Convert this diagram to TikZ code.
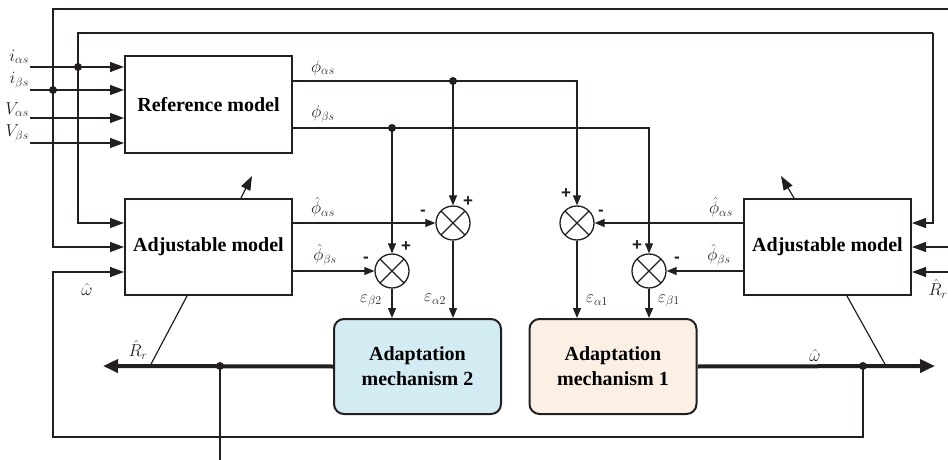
\documentclass[tikz,border=0pt]{standalone}
\usepackage{fontspec}
\setmainfont{Liberation Serif}
\newfontfamily\signfont{Liberation Sans}
\DeclareMathSizes{17.28}{17.28}{12}{10}
\usetikzlibrary{arrows.meta,calc}
\definecolor{inkc}{HTML}{231F20}
\definecolor{amblue}{HTML}{D3EBF2}
\definecolor{ampeach}{HTML}{FCEFE3}
\begin{document}
\begin{tikzpicture}[x=1pt,y=-1pt,
  wire/.style={line width=1.2pt, draw=inkc},
  thickw/.style={line width=4pt, draw=inkc},
  inarr/.style={-{Triangle[length=14pt,width=10pt]}},
  sarr/.style={-{Triangle[length=10pt,width=8pt]}},
  bigarr/.style={-{Triangle[length=15pt,width=13pt]}},
  blockbox/.style={draw=inkc, line width=2pt, minimum width=167pt, minimum height=96pt, inner sep=0pt, font=\fontsize{20}{24}\selectfont\bfseries},
  ambox/.style={draw=inkc, line width=2pt, rounded corners=10pt, minimum width=167pt, minimum height=95pt, align=center, inner sep=0pt, font=\fontsize{20}{25}\selectfont\bfseries},
  sumj/.style={circle, draw=inkc, line width=1.3pt, minimum size=34pt, inner sep=0pt, fill=white,
    path picture={\draw[line width=1.1pt, inkc] (path picture bounding box.north west) -- (path picture bounding box.south east) (path picture bounding box.north east) -- (path picture bounding box.south west);}},
  jdot/.style={circle, fill=inkc, inner sep=0pt, minimum size=8pt},
  lbl/.style={font=\fontsize{17.28}{20}\selectfont, inner sep=0pt, text=inkc},
  sgn/.style={font=\fontsize{17}{18}\selectfont\signfont\bfseries, inner sep=0pt, text=inkc}
]
\useasboundingbox (0,0) rectangle (948,460);

% blocks
\node[blockbox] (ref)  at (208.5,104.5) {Reference model};
\node[blockbox] (adjL) at (208.5,247) {Adjustable model};
\node[blockbox] (adjR) at (827.5,247) {Adjustable model};
\node[ambox, fill=amblue]  (am2) at (417.5,366.5) {Adaptation\\mechanism 2};
\node[ambox, fill=ampeach] (am1) at (613,366.5) {Adaptation\\mechanism 1};

% summing junctions
\node[sumj] (s1) at (453,223) {};
\node[sumj] (s2) at (392,271) {};
\node[sumj] (s3) at (577,223) {};
\node[sumj] (s4) at (649,271) {};

% junction dots
\node[jdot] (d1) at (78,67) {};
\node[jdot] (d2) at (53,90) {};
\node[jdot] (d3) at (453,81) {};
\node[jdot] (d4) at (392,128) {};
\node[jdot] (d5) at (220,366) {};
\node[jdot] (d6) at (863,366) {};

% free ends and corners
\coordinate (ia) at (30,67);
\coordinate (ib) at (30,90);
\coordinate (va) at (30,118);
\coordinate (vb) at (30,143);
\coordinate (e1) at (948,9);
\coordinate (c1) at (53,9);
\coordinate (c2) at (78,33);
\coordinate (c3) at (933,33);
\coordinate (r1) at (948,247);
\coordinate (r2) at (948,272);
\coordinate (wl) at (103,366);
\coordinate (wr) at (935,366);
\coordinate (bot) at (220,460);
\coordinate (f1) at (863,437);
\coordinate (f2) at (53,437);
\coordinate (tL) at (150,366);
\coordinate (tR) at (886,366);

% inputs to reference model
\draw[wire,inarr] (ia) -- (ref.west |- ia);
\draw[wire,inarr] (ib) -- (ref.west |- ib);
\draw[wire,inarr] (va) -- (ref.west |- va);
\draw[wire,inarr] (vb) -- (ref.west |- vb);

% outer loops
\draw[wire] (e1) -- (c1) -- (d2.center);
\draw[wire,inarr] (d2.center) |- (adjL.west);
\draw[wire] (d1.center) -- (c2) -- (c3);
\draw[wire,inarr] (d1.center) |- ($(adjL.west)+(0,-24)$);
\draw[wire,inarr] (c3) |- ($(adjR.east)+(0,-24)$);

% right inputs
\draw[wire,inarr] (r1) -- (adjR.east);
\draw[wire,inarr] (r2) -- (adjR.east |- r2);

% reference outputs
\draw[wire] (ref.east |- d3) -- (d3.center);
\draw[wire,sarr] (d3.center) -| (s3.north);
\draw[wire,sarr] (d3.center) -- (s1.north);
\draw[wire] (ref.east |- d4) -- (d4.center);
\draw[wire,sarr] (d4.center) -| (s4.north);
\draw[wire,sarr] (d4.center) -- (s2.north);

% adjustable model outputs
\draw[wire,sarr] (adjL.east |- s1) -- (s1.west);
\draw[wire,sarr] (adjL.east |- s2) -- (s2.west);
\draw[wire,sarr] (adjR.west |- s3) -- (s3.east);
\draw[wire,sarr] (adjR.west |- s4) -- (s4.east);

% errors to adaptation mechanisms
\draw[wire,sarr] (s2.south) -- (s2.south |- am2.north);
\draw[wire,sarr] (s1.south) -- (s1.south |- am2.north);
\draw[wire,sarr] (s3.south) -- (s3.south |- am1.north);
\draw[wire,sarr] (s4.south) -- (s4.south |- am1.north);

% thick outputs
\draw[thickw,bigarr] (am2.west) -- (wl);
\draw[thickw,bigarr] (am1.east) -- (wr);
\draw[wire] (d5.center) -- (bot);
\draw[wire,inarr] (d6.center) -- (f1) -- (f2) |- ($(adjL.west)+(0,25)$);

% diagonal links
\draw[wire] ($(adjL.south west)+(63,0)$) -- (tL);
\draw[wire] ($(adjR.south west)+(104,0)$) -- (tR);
\draw[wire,inarr] ($(adjL.north west)+(117,0)$) -- ++(11,-22);
\draw[wire,inarr] ($(adjR.north west)+(51,0)$) -- ++(-13,-22);

% labels
\node[lbl, anchor=south east] at ([shift={(-1,-3)}]ia) {$i_{\alpha s}$};
\node[lbl, anchor=south east] at ([shift={(-1,-1)}]ib) {$i_{\beta s}$};
\node[lbl, anchor=south east] at ([shift={(-1,-1)}]va) {$V_{\alpha s}$};
\node[lbl, anchor=south east] at ([shift={(-1,-1)}]vb) {$V_{\beta s}$};
\node[lbl] at (323,68) {$\phi_{\alpha s}$};
\node[lbl] at (323,114) {$\phi_{\beta s}$};
\node[lbl] at (323,207) {$\hat{\phi}_{\alpha s}$};
\node[lbl] at (325,255) {$\hat{\phi}_{\beta s}$};
\node[lbl] at (721,207) {$\hat{\phi}_{\alpha s}$};
\node[lbl] at (719,255) {$\hat{\phi}_{\beta s}$};
\node[lbl] at (371,301) {$\varepsilon_{\beta 2}$};
\node[lbl] at (435,299) {$\varepsilon_{\alpha 2}$};
\node[lbl] at (597,300) {$\varepsilon_{\alpha 1}$};
\node[lbl] at (669,301) {$\varepsilon_{\beta 1}$};
\node[lbl] at (87,289) {$\hat{\omega}$};
\node[lbl] at (815,355) {$\hat{\omega}$};
\node[lbl] at (138,350) {$\hat{R}_r$};
\node[lbl] at (938,289) {$\hat{R}_r$};

% signs
\node[sgn] at (468,202) {+};
\node[sgn] at (423,213) {-};
\node[sgn] at (406,247) {+};
\node[sgn] at (366,260) {-};
\node[sgn] at (566,194) {+};
\node[sgn] at (601,213) {-};
\node[sgn] at (637,246) {+};
\node[sgn] at (677,260) {-};
\end{tikzpicture}
\end{document}
